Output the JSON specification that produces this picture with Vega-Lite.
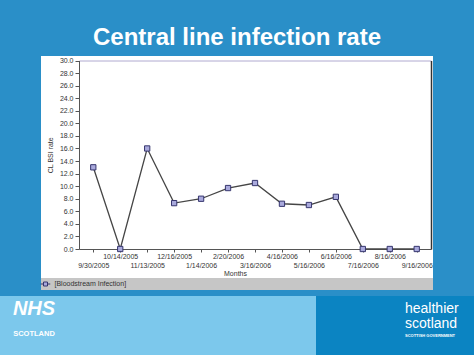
{
  "$schema": "https://vega.github.io/schema/vega-lite/v6.json",
  "background": "#2a8fc8",
  "padding": {"left": 0, "right": 0, "top": 26, "bottom": 0},
  "title": {
    "text": "Central line infection rate",
    "color": "white",
    "fontSize": 24,
    "font": "Liberation Sans",
    "fontWeight": "bold",
    "anchor": "middle",
    "offset": 6
  },
  "datasets": {
    "rates": [
      {"month": "9/30/2005", "rate": 13.0},
      {"month": "10/14/2005", "rate": 0.0},
      {"month": "11/13/2005", "rate": 16.0},
      {"month": "12/16/2005", "rate": 7.3},
      {"month": "1/14/2006", "rate": 8.0},
      {"month": "2/20/2006", "rate": 9.7},
      {"month": "3/16/2006", "rate": 10.5},
      {"month": "4/16/2006", "rate": 7.2},
      {"month": "5/16/2006", "rate": 7.0},
      {"month": "6/16/2006", "rate": 8.3},
      {"month": "7/16/2006", "rate": 0.0},
      {"month": "8/16/2006", "rate": 0.0},
      {"month": "9/16/2006", "rate": 0.0}
    ],
    "legendrow": [{"series": "[Bloodstream Infection]"}],
    "blocks": [
      {"panel": "left", "tone": "light"},
      {"panel": "middle", "tone": "light"},
      {"panel": "right", "tone": "dark"}
    ],
    "logos": [
      {"panel": "left", "label": "NHS", "kind": "nhs"},
      {"panel": "left", "label": "SCOTLAND", "kind": "nhssub"},
      {"panel": "right", "label": "healthier", "kind": "hs"},
      {"panel": "right", "label": "scotland", "kind": "hs2"},
      {"panel": "right", "label": "SCOTTISH GOVERNMENT", "kind": "hssub"}
    ]
  },
  "spacing": 6,
  "center": true,
  "vconcat": [
    {
      "spacing": 0,
      "vconcat": [
        {
          "width": 392,
          "height": 222,
          "view": {"fill": "white", "stroke": null},
          "data": {"name": "rates"},
          "resolve": {"axis": {"x": "independent", "y": "independent"}},
          "layer": [
            {
              "mark": {"type": "line", "color": "#454545", "strokeWidth": 1.3},
              "encoding": {
                "x": {
                  "field": "month", "type": "nominal", "sort": null,
                  "scale": {"type": "point", "range": [38, 390], "padding": 0.53},
                  "axis": {
                    "orient": "bottom", "offset": -29, "labelAngle": 0, "labelFontSize": 7,
                    "labelColor": "#333333", "labelPadding": 0, "labelLineHeight": 9,
                    "labelBaseline": "top", "labelOverlap": false,
                    "labelExpr": "indexof(['9/30/2005','11/13/2005','1/14/2006','3/16/2006','5/16/2006','7/16/2006','9/16/2006'], datum.value) >= 0 ? ['', datum.label] : datum.label",
                    "tickSize": 3, "tickColor": "#555555", "domainColor": "#555555",
                    "title": "Months", "titleFontSize": 7, "titleFontWeight": "normal",
                    "titleColor": "#333333", "titleX": 194, "titlePadding": 1
                  }
                },
                "y": {
                  "field": "rate", "type": "quantitative",
                  "scale": {"domain": [0, 30], "range": [193, 4.5], "nice": false},
                  "axis": {
                    "orient": "left", "offset": -38,
                    "values": [0, 2, 4, 6, 8, 10, 12, 14, 16, 18, 20, 22, 24, 26, 28, 30],
                    "format": ".1f", "labelFontSize": 7, "labelColor": "#333333", "labelPadding": 2,
                    "tickSize": 4, "tickColor": "#555555", "domainColor": "#555555", "grid": false,
                    "title": "CL BSI rate", "titleFontSize": 7, "titleFontWeight": "normal",
                    "titleColor": "#333333", "titlePadding": 6
                  }
                }
              }
            },
            {
              "mark": {"type": "point", "shape": "square", "filled": true, "fill": "#a9a9dc", "stroke": "#36366e", "strokeWidth": 1, "size": 28, "opacity": 1},
              "encoding": {
                "x": {
                  "field": "month", "type": "nominal", "sort": null,
                  "scale": {"type": "point", "range": [38, 390], "padding": 0.53},
                  "axis": {"orient": "top", "offset": -4.5, "labels": false, "ticks": false, "domainColor": "#b0aad0", "title": null}
                },
                "y": {
                  "field": "rate", "type": "quantitative",
                  "scale": {"domain": [0, 30], "range": [193, 4.5], "nice": false},
                  "axis": {"orient": "right", "offset": -2, "labels": false, "ticks": false, "grid": false, "domainColor": "#333333", "domainWidth": 1.5, "title": null}
                }
              }
            }
          ]
        },
        {
          "width": 392,
          "height": 12,
          "view": {"fill": "#c6c6c6", "stroke": null},
          "data": {"name": "legendrow"},
          "encoding": {
            "x": {"field": "series", "type": "nominal", "axis": null, "scale": {"type": "point", "align": 0.0115}}
          },
          "layer": [
            {"mark": {"type": "point", "shape": "stroke", "size": 90, "stroke": "#36366e", "strokeWidth": 1, "opacity": 1}},
            {"mark": {"type": "point", "shape": "square", "filled": true, "fill": "#a9a9dc", "stroke": "#36366e", "strokeWidth": 1, "size": 16, "opacity": 1}},
            {"mark": {"type": "text", "align": "left", "dx": 9, "fontSize": 7, "color": "#333333", "font": "Liberation Sans"}, "encoding": {"text": {"field": "series"}}}
          ]
        }
      ]
    },
    {
      "width": 474,
      "height": 59,
      "view": {"fill": "#7cc8ec", "stroke": null},
      "encoding": {
        "x": {"field": "panel", "type": "nominal", "sort": null, "axis": null, "bandPosition": 0.5,
              "scale": {"type": "band", "domain": ["left", "middle", "right"], "paddingInner": 0, "paddingOuter": 0}}
      },
      "layer": [
        {
          "data": {"name": "blocks"},
          "mark": {"type": "rect"},
          "encoding": {
            "x": {"field": "panel", "type": "nominal", "sort": null, "axis": null,
                  "scale": {"type": "band", "domain": ["left", "middle", "right"], "paddingInner": 0, "paddingOuter": 0}},
            "color": {"field": "tone", "type": "nominal", "legend": null,
                      "scale": {"domain": ["light", "dark"], "range": ["#7cc8ec", "#0b84c2"]}}
          }
        },
        {
          "data": {"name": "logos"},
          "transform": [{"filter": "datum.kind === 'nhs'"}],
          "mark": {"type": "text", "color": "white", "font": "Liberation Sans", "fontWeight": "bold", "fontStyle": "italic", "fontSize": 20, "dx": -45, "dy": -17},
          "encoding": {"text": {"field": "label"}}
        },
        {
          "data": {"name": "logos"},
          "transform": [{"filter": "datum.kind === 'nhssub'"}],
          "mark": {"type": "text", "color": "white", "font": "Liberation Sans", "fontWeight": "bold", "fontSize": 7.5, "dx": -45, "dy": 8},
          "encoding": {"text": {"field": "label"}}
        },
        {
          "data": {"name": "logos"},
          "transform": [{"filter": "datum.kind === 'hs'"}],
          "mark": {"type": "text", "color": "white", "font": "Liberation Sans", "fontSize": 14, "align": "left", "dx": 10, "dy": -17},
          "encoding": {"text": {"field": "label"}}
        },
        {
          "data": {"name": "logos"},
          "transform": [{"filter": "datum.kind === 'hs2'"}],
          "mark": {"type": "text", "color": "white", "font": "Liberation Sans", "fontSize": 14, "align": "left", "dx": 10, "dy": -2},
          "encoding": {"text": {"field": "label"}}
        },
        {
          "data": {"name": "logos"},
          "transform": [{"filter": "datum.kind === 'hssub'"}],
          "mark": {"type": "text", "color": "white", "font": "Liberation Sans", "fontWeight": "bold", "fontSize": 4, "align": "left", "dx": 10, "dy": 10},
          "encoding": {"text": {"field": "label"}}
        }
      ]
    }
  ],
  "config": {
    "font": "Liberation Sans",
    "view": {"stroke": null}
  }
}
